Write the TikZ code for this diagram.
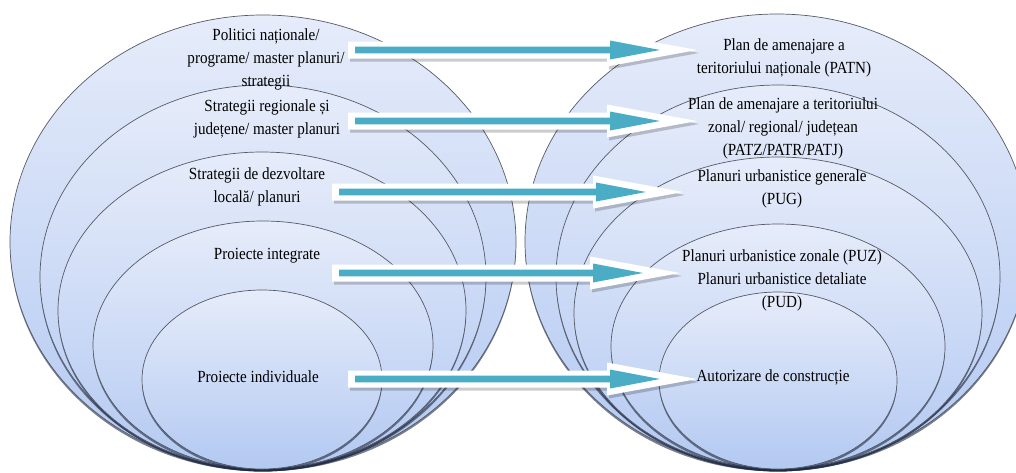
\documentclass[tikz,border=0pt]{standalone}
\usepackage{fontspec}
\setmainfont{Liberation Serif}[FakeStretch=0.89]
\usetikzlibrary{shapes.geometric,shadows,calc}

\definecolor{ringtop}{HTML}{E6ECFA}
\definecolor{ringbot}{HTML}{B3C9F2}
\definecolor{ringline}{HTML}{555A66}
\definecolor{ringshadow}{HTML}{1E2A44}
\definecolor{arrowfill}{HTML}{4BACC6}

% block arrow with white rim, teal core and a soft shadow, from #1 to tip #2
\newcommand\flowarrow[2]{%
  \fill[black, opacity=.2] ($(#1)+(2,-5.5)$) -- ($(#2)+(-88,-5.5)$) -- ($(#2)+(-88,-13.5)$)
     -- ($(#2)+(2,3)$) -- ($(#2)+(-88,19.5)$) -- ($(#2)+(-88,11.5)$) -- ($(#1)+(2,11.5)$) -- cycle;
  \fill[white] ($(#1)+(0,-8.5)$) -- ($(#2)+(-90,-8.5)$) -- ($(#2)+(-90,-16.5)$)
     -- (#2) -- ($(#2)+(-90,16.5)$) -- ($(#2)+(-90,8.5)$) -- ($(#1)+(0,8.5)$) -- cycle;
  \fill[arrowfill] ($(#1)+(7,-3.3)$) -- ($(#2)+(-87,-3.3)$) -- ($(#2)+(-87,-9.5)$)
     -- ($(#2)+(-37,0)$) -- ($(#2)+(-87,9.5)$) -- ($(#2)+(-87,3.3)$) -- ($(#1)+(7,3.3)$) -- cycle;
}

\begin{document}
\begin{tikzpicture}[x=1pt, y=-1pt,
  ring/.style={ellipse, draw=ringline, line width=0.7pt,
    top color=ringtop, bottom color=ringbot, inner sep=0pt, outer sep=0pt,
    drop shadow={shadow xshift=0pt, shadow yshift=-2.4pt, opacity=.6, fill=ringshadow}},
  lbl/.style={align=center, inner sep=0pt, font=\fontsize{17}{23}\selectfont}]

\useasboundingbox (0,0) rectangle (1016,472);
\fill[white] (0,0) rectangle (1016,472);

% left family of nested rings
\node[ring, minimum width=506pt, minimum height=454pt] (L1) at (263,242) {};
\node[ring, minimum width=446pt, minimum height=384pt] (L2) at (263,277) {};
\node[ring, minimum width=408pt, minimum height=317pt] (L3) at (262,310.5) {};
\node[ring, minimum width=340pt, minimum height=248pt] (L4) at (263,345) {};
\node[ring, minimum width=240pt, minimum height=179pt] (L5) at (262,379.5) {};

% right family of nested rings
\node[ring, minimum width=504pt, minimum height=455pt] (R1) at (777,241.5) {};
\node[ring, minimum width=444pt, minimum height=384pt] (R2) at (778,277) {};
\node[ring, minimum width=408pt, minimum height=312pt] (R3) at (778,313) {};
\node[ring, minimum width=334pt, minimum height=245pt] (R4) at (778,346.5) {};
\node[ring, minimum width=238pt, minimum height=177pt] (R5) at (778,380.5) {};

% labels, left
\node[lbl] (tl1) at (266,59) {Politici naționale/\\programe/ master planuri/\\strategii};
\node[lbl] (tl2) at (267,119) {Strategii regionale  și\\județene/ master planuri};
\node[lbl] (tl3) at (257,186.5) {Strategii de dezvoltare\\locală/ planuri};
\node[lbl] (tl4) at (267,256) {Proiecte integrate};
\node[lbl] (tl5) at (258,377) {Proiecte individuale};

% labels, right
\node[lbl] (tr1) at (784,57.5) {Plan de amenajare a\\teritoriului naționale (PATN)};
\node[lbl] (tr2) at (783,128.5) {Plan de amenajare a teritoriului\\zonal/ regional/ județean\\(PATZ/PATR/PATJ)};
\node[lbl] (tr3) at (782,188.5) {Planuri urbanistice generale\\(PUG)};
\node[lbl] (tr4) at (782,280) {Planuri urbanistice zonale (PUZ)\\Planuri urbanistice detaliate\\(PUD)};
\node[lbl] (tr5) at (773,377) {Autorizare de construcție};

% arrow ends
\coordinate (s1) at (348,50);  \coordinate (e1) at (697,50);
\coordinate (s2) at (348,121); \coordinate (e2) at (697,121);
\coordinate (s3) at (332,192); \coordinate (e3) at (683,192);
\coordinate (s4) at (332,273); \coordinate (e4) at (680,273);
\coordinate (s5) at (348,379); \coordinate (e5) at (697,379);

\flowarrow{s1}{e1}
\flowarrow{s2}{e2}
\flowarrow{s3}{e3}
\flowarrow{s4}{e4}
\flowarrow{s5}{e5}

\end{tikzpicture}
\end{document}
